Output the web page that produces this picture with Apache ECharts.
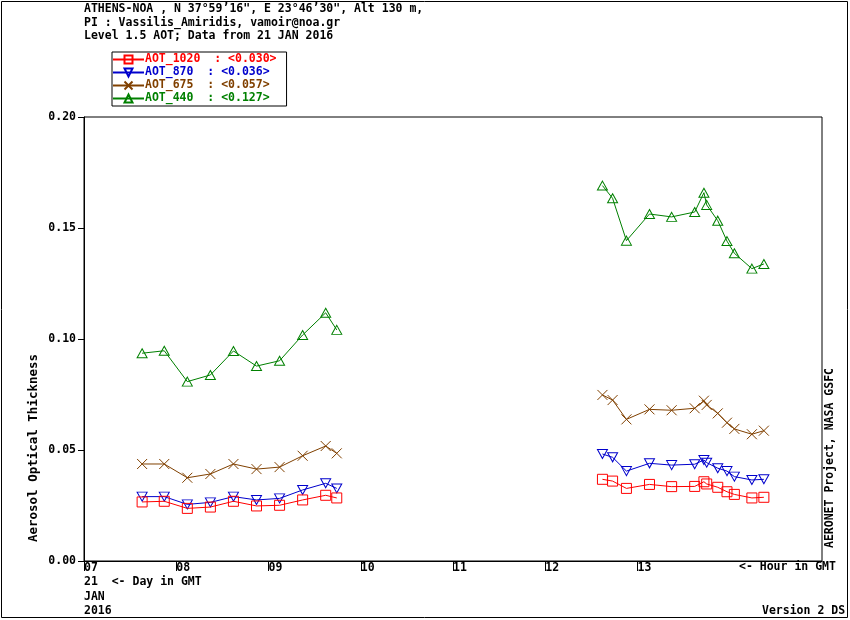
<!DOCTYPE html>
<html>
<head>
<meta charset="utf-8">
<script src="https://cdn.jsdelivr.net/npm/echarts@6/dist/echarts.min.js"></script>
<style>
html,body{margin:0;padding:0;background:#fff;}
#c{width:850px;height:620px;}
</style>
</head>
<body>
<div id="c"></div>
<script>
// Hours (GMT) of observations, 21 JAN 2016
const timesAM = [7.63, 7.87, 8.12, 8.37, 8.62, 8.87, 9.12, 9.37, 9.62, 9.74];
const timesPM = [12.62, 12.73, 12.88, 13.13, 13.37, 13.62, 13.72, 13.75, 13.87, 13.97, 14.05, 14.24, 14.37];

const aot1020AM = [0.0266, 0.0269, 0.0237, 0.0243, 0.0269, 0.0248, 0.0251, 0.0275, 0.0296, 0.0284];
const aot1020PM = [0.0368, 0.0360, 0.0327, 0.0345, 0.0335, 0.0336, 0.0357, 0.0347, 0.0332, 0.0312, 0.0300, 0.0284, 0.0287];
const aot870AM  = [0.0290, 0.0290, 0.0255, 0.0264, 0.0290, 0.0275, 0.0282, 0.0320, 0.0350, 0.0327];
const aot870PM  = [0.0482, 0.0467, 0.0405, 0.0440, 0.0432, 0.0436, 0.0455, 0.0443, 0.0418, 0.0405, 0.0380, 0.0365, 0.0368];
const aot675AM  = [0.0437, 0.0437, 0.0375, 0.0392, 0.0437, 0.0414, 0.0423, 0.0474, 0.0518, 0.0485];
const aot675PM  = [0.0748, 0.0725, 0.0638, 0.0683, 0.0679, 0.0688, 0.0722, 0.0703, 0.0665, 0.0623, 0.0595, 0.0571, 0.0587];
const aot440AM  = [0.0936, 0.0947, 0.0808, 0.0838, 0.0946, 0.0878, 0.0902, 0.1018, 0.1118, 0.1041];
const aot440PM  = [0.1691, 0.1634, 0.1443, 0.1563, 0.1550, 0.1572, 0.1659, 0.1604, 0.1533, 0.1441, 0.1386, 0.1317, 0.1338];

const seriesNames = ['AOT_1020', 'AOT_870', 'AOT_675', 'AOT_440'];
const legendMeans = ['0.030', '0.036', '0.057', '0.127'];
const legendLabels = ['AOT_1020  : <0.030>', 'AOT_870  : <0.036>', 'AOT_675  : <0.057>', 'AOT_440  : <0.127>'];
const xTickValues = [7, 8, 9, 10, 11, 12, 13];
const yTickLabels = ['0.00', '0.05', '0.10', '0.15', '0.20'];

const colors = ['#ff0000', '#0000cc', '#804000', '#008000'];
const FONT = '"DejaVu Sans Mono", "Liberation Mono", monospace';

function pairs(ts, vs) { return ts.map((t, i) => [t, vs[i]]); }
function build(am, pm) {
  return pairs(timesAM, am).concat([[11, null]], pairs(timesPM, pm));
}
const seriesData = [
  build(aot1020AM, aot1020PM),
  build(aot870AM, aot870PM),
  build(aot675AM, aot675PM),
  build(aot440AM, aot440PM)
];
const symbols = ['rect', 'triangle', 'path://M0,0L10,10M10,0L0,10', 'triangle'];
const symbolSizes = [[10, 10], [10, 9], [10, 10], [10, 9]];
const symbolRot = [0, 180, 0, 0];

const chart = echarts.init(document.getElementById('c'), null, {renderer: 'canvas'});

const txt = (text, x, y, extra) => Object.assign({
  type: 'text', x: x, y: y,
  style: Object.assign({text: text, font: 'bold 11.5px ' + FONT, fill: '#000',
    textAlign: 'left', textVerticalAlign: 'middle'}, (extra && extra.style) || {})
}, extra ? {rotation: extra.rotation || 0} : {});

const option = {
  animation: false,
  backgroundColor: '#fff',
  grid: {left: 84, top: 117, right: 28, bottom: 59, show: true, borderColor: '#000', borderWidth: 1, backgroundColor: 'transparent'},
  legend: {
    orient: 'vertical',
    left: 112, top: 52,
    itemWidth: 31, itemHeight: 10, itemGap: 0,
    padding: [1, 10, 1, 0],
    borderColor: '#000', borderWidth: 1,
    data: seriesNames.map((n, i) => ({name: n, textStyle: {color: colors[i]}})),
    formatter: name => legendLabels[seriesNames.indexOf(name)],
    textStyle: {fontFamily: FONT, fontWeight: 'bold', fontSize: 11.5, lineHeight: 13, padding: [0, 0, 0, -4]}
  },
  xAxis: {
    type: 'value', min: 7, max: 15, interval: 1,
    axisLine: {lineStyle: {color: '#000', width: 1}},
    axisTick: {show: true, length: 10, inside: false, customValues: xTickValues, lineStyle: {color: '#000'}},
    axisLabel: {customValues: xTickValues, align: 'left', margin: 1, color: '#000',
      fontFamily: FONT, fontWeight: 'bold', fontSize: 11.5,
      formatter: v => (v < 10 ? '0' : '') + v},
    splitLine: {show: false}
  },
  yAxis: {
    type: 'value', min: 0, max: 0.2, interval: 0.05,
    axisLine: {show: true, lineStyle: {color: '#000', width: 1}},
    axisTick: {show: true, length: 6, lineStyle: {color: '#000'}},
    axisLabel: {margin: 8, color: '#000', fontFamily: FONT, fontWeight: 'bold', fontSize: 11.5,
      formatter: v => yTickLabels[Math.round(v / 0.05)]},
    splitLine: {show: false}
  },
  series: seriesNames.map((n, i) => ({
    name: n, type: 'line', data: seriesData[i],
    connectNulls: false,
    symbol: symbols[i], symbolSize: symbolSizes[i], symbolRotate: symbolRot[i],
    showAllSymbol: true,
    color: colors[i],
    lineStyle: {color: colors[i], width: 1},
    itemStyle: {color: 'rgba(0,0,0,0)', borderColor: colors[i], borderWidth: 1},
    emphasis: {disabled: true},
    z: 2 + (3 - i)
  })),
  graphic: [
    {type: 'rect', shape: {x: 1.5, y: 1.5, width: 846, height: 616}, style: {fill: 'none', stroke: '#000', lineWidth: 1}, silent: true},
    txt('ATHENS-NOA , N 37°59’16", E 23°46’30", Alt 130 m,', 84, 9.5),
    txt('PI : Vassilis_Amiridis, vamoir@noa.gr', 84, 23),
    txt('Level 1.5 AOT; Data from 21 JAN 2016', 84, 36),
    txt('21  <- Day in GMT', 84, 582),
    txt('JAN', 84, 597),
    txt('2016', 84, 611),
    txt('<- Hour in GMT', 739, 567),
    txt('Version 2 DS', 762, 611),
    txt('Aerosol Optical Thickness', 34, 448, {rotation: Math.PI / 2, style: {textAlign: 'center', font: 'bold 12.5px ' + FONT}}),
    txt('AERONET Project, NASA GSFC', 830, 458, {rotation: Math.PI / 2, style: {textAlign: 'center'}})
  ]
};
chart.setOption(option);
</script>
</body>
</html>
